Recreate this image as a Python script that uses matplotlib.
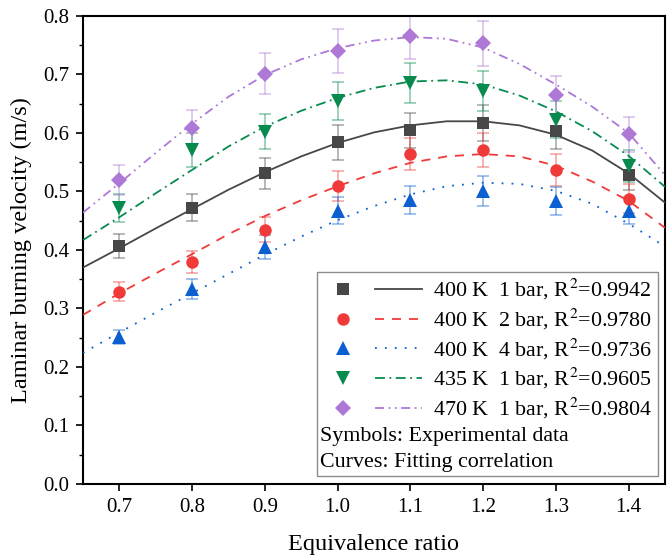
import matplotlib
matplotlib.use("Agg")
import matplotlib.pyplot as plt
from matplotlib.lines import Line2D
from matplotlib.legend_handler import HandlerBase
from matplotlib.patches import Rectangle
from matplotlib.ticker import MultipleLocator, FormatStrFormatter

plt.rcParams["font.family"] = ["Liberation Serif", "DejaVu Serif"]
plt.rcParams["mathtext.fontset"] = "stix"

# Measured laminar burning velocities (m/s)
phi = [0.7, 0.8, 0.9, 1.0, 1.1, 1.2, 1.3, 1.4]
sl_400K_1bar = [0.407, 0.472, 0.531, 0.584, 0.605, 0.617, 0.603, 0.528]
sl_400K_2bar = [0.329, 0.380, 0.435, 0.509, 0.564, 0.571, 0.537, 0.488]
sl_400K_4bar = [0.252, 0.333, 0.405, 0.467, 0.485, 0.501, 0.483, 0.467]
sl_435K_1bar = [0.472, 0.571, 0.602, 0.655, 0.686, 0.672, 0.623, 0.544]
sl_470K_1bar = [0.520, 0.609, 0.701, 0.740, 0.765, 0.753, 0.665, 0.598]

# Experimental uncertainty (m/s)
err_400K_1bar = [0.020, 0.023, 0.026, 0.030, 0.030, 0.031, 0.030, 0.026]
err_400K_2bar = [0.016, 0.019, 0.022, 0.026, 0.028, 0.029, 0.027, 0.024]
err_400K_4bar = [0.012, 0.017, 0.020, 0.023, 0.024, 0.025, 0.024, 0.023]
err_435K_1bar = [0.024, 0.029, 0.030, 0.033, 0.034, 0.034, 0.031, 0.027]
err_470K_1bar = [0.026, 0.030, 0.035, 0.038, 0.038, 0.038, 0.033, 0.030]

# Fitting correlation evaluated on the equivalence-ratio grid
phi_fit = [0.65, 0.70, 0.75, 0.80, 0.85, 0.90, 0.95, 1.00, 1.05,
           1.10, 1.15, 1.20, 1.25, 1.30, 1.35, 1.40, 1.45]
fit_400K_1bar = [0.370, 0.403, 0.437, 0.470, 0.503, 0.533, 0.560, 0.583, 0.601,
                 0.613, 0.620, 0.620, 0.613, 0.597, 0.570, 0.531, 0.481]
fit_400K_2bar = [0.289, 0.326, 0.360, 0.393, 0.427, 0.458, 0.485, 0.509, 0.531,
                 0.549, 0.560, 0.564, 0.560, 0.544, 0.517, 0.484, 0.438]
fit_400K_4bar = [0.224, 0.259, 0.293, 0.326, 0.359, 0.392, 0.423, 0.451, 0.475,
                 0.495, 0.509, 0.515, 0.513, 0.501, 0.479, 0.445, 0.406]
fit_435K_1bar = [0.417, 0.456, 0.497, 0.537, 0.577, 0.611, 0.638, 0.660, 0.677,
                 0.688, 0.690, 0.683, 0.664, 0.637, 0.603, 0.561, 0.508]
fit_470K_1bar = [0.464, 0.514, 0.566, 0.616, 0.662, 0.699, 0.726, 0.745, 0.758,
                 0.764, 0.761, 0.746, 0.718, 0.683, 0.645, 0.600, 0.528]

labels = ["400 K  1 bar, R$^2$=0.9942",
          "400 K  2 bar, R$^2$=0.9780",
          "400 K  4 bar, R$^2$=0.9736",
          "435 K  1 bar, R$^2$=0.9605",
          "470 K  1 bar, R$^2$=0.9804"]

series = [
    (sl_400K_1bar, err_400K_1bar, fit_400K_1bar, "#474747", "s", 8.5, "-"),
    (sl_400K_2bar, err_400K_2bar, fit_400K_2bar, "#f03a3a", "o", 9.0, (0, (5, 4.4))),
    (sl_400K_4bar, err_400K_4bar, fit_400K_4bar, "#0b5fd0", "^", 9.5, (0, (1, 4.5))),
    (sl_435K_1bar, err_435K_1bar, fit_435K_1bar, "#078a4e", "v", 9.5, (0, (5.5, 2.5, 1, 2.5))),
    (sl_470K_1bar, err_470K_1bar, fit_470K_1bar, "#ad78d6", "D", 8.0, (0, (5, 2.5, 1, 2.5, 1, 2.5))),
]

fig = plt.figure(figsize=(6.7, 5.59), dpi=100)
ax = fig.add_axes([0.1239, 0.1342, 0.8686, 0.8372])

handles = []
for vals, err, fit, color, mk, ms, ls in series:
    ax.errorbar(phi, vals, yerr=err, fmt="none", ecolor=color, alpha=0.45,
                elinewidth=1.2, capsize=4, capthick=1.2, zorder=2)
    ax.plot(phi_fit, fit, color=color, linestyle=ls, linewidth=1.3, zorder=3)
    ax.plot(phi, vals, linestyle="none", marker=mk, markersize=ms,
            color=color, markeredgewidth=0, zorder=4)
    handles.append((Line2D([], [], linestyle="none", marker=mk, markersize=ms,
                           color=color, markeredgewidth=0),
                    Line2D([], [], color=color, linestyle=ls, linewidth=1.3)))


class MarkerThenLine(HandlerBase):
    """Legend entry: symbol on the left, curve sample on the right."""

    def create_artists(self, legend, orig_handle, xdescent, ydescent,
                       width, height, fontsize, trans):
        mk, ln = orig_handle
        y = height / 2.0 - ydescent
        x0 = -xdescent
        m = Line2D([x0 + 0.14 * width], [y])
        m.update_from(mk)
        l = Line2D([x0 + 0.49 * width, x0 + width], [y, y])
        l.update_from(ln)
        m.set_transform(trans)
        l.set_transform(trans)
        return [m, l]


ax.set_xlim(0.65, 1.45)
ax.set_ylim(0.0, 0.8)
ax.xaxis.set_major_locator(MultipleLocator(0.1))
ax.yaxis.set_major_locator(MultipleLocator(0.1))
ax.yaxis.set_minor_locator(MultipleLocator(0.05))
ax.xaxis.set_major_formatter(FormatStrFormatter("%.1f"))
ax.yaxis.set_major_formatter(FormatStrFormatter("%.1f"))
ax.tick_params(axis="both", which="major", direction="out", length=5,
               width=1.2, labelsize=15, pad=5)
ax.tick_params(axis="y", which="minor", direction="out", length=3, width=1.0)
ax.tick_params(top=False, right=False)
for sp in ax.spines.values():
    sp.set_linewidth(1.5)

ax.set_xlabel("Equivalence ratio", fontsize=17.5, labelpad=12)
ax.set_ylabel("Laminar burning velocity (m/s)", fontsize=17.5, labelpad=8)

# Legend frame with explanatory notes
box = Rectangle((317 / 670, 1 - 476 / 559), (658 - 317) / 670, (476 - 272) / 559,
                transform=fig.transFigure, facecolor="white", edgecolor="#8c8c8c",
                linewidth=1.0, zorder=5)
ax.add_patch(box)

leg = ax.legend(handles, labels, handler_map={tuple: MarkerThenLine()},
                loc="upper left", bbox_to_anchor=(328 / 670, 1 - 275 / 559),
                bbox_transform=fig.transFigure, frameon=False, fontsize=15.8,
                handlelength=4.2, handletextpad=0.5, labelspacing=0.21,
                borderpad=0.1, borderaxespad=0)
leg.set_zorder(6)

ax.text(320 / 670, 1 - 437 / 559, "Symbols: Experimental data", fontsize=15.8,
        va="center", ha="left", transform=fig.transFigure, zorder=7)
ax.text(320 / 670, 1 - 463 / 559, "Curves: Fitting correlation", fontsize=15.8,
        va="center", ha="left", transform=fig.transFigure, zorder=7)

fig.savefig("out.png", dpi=100)
